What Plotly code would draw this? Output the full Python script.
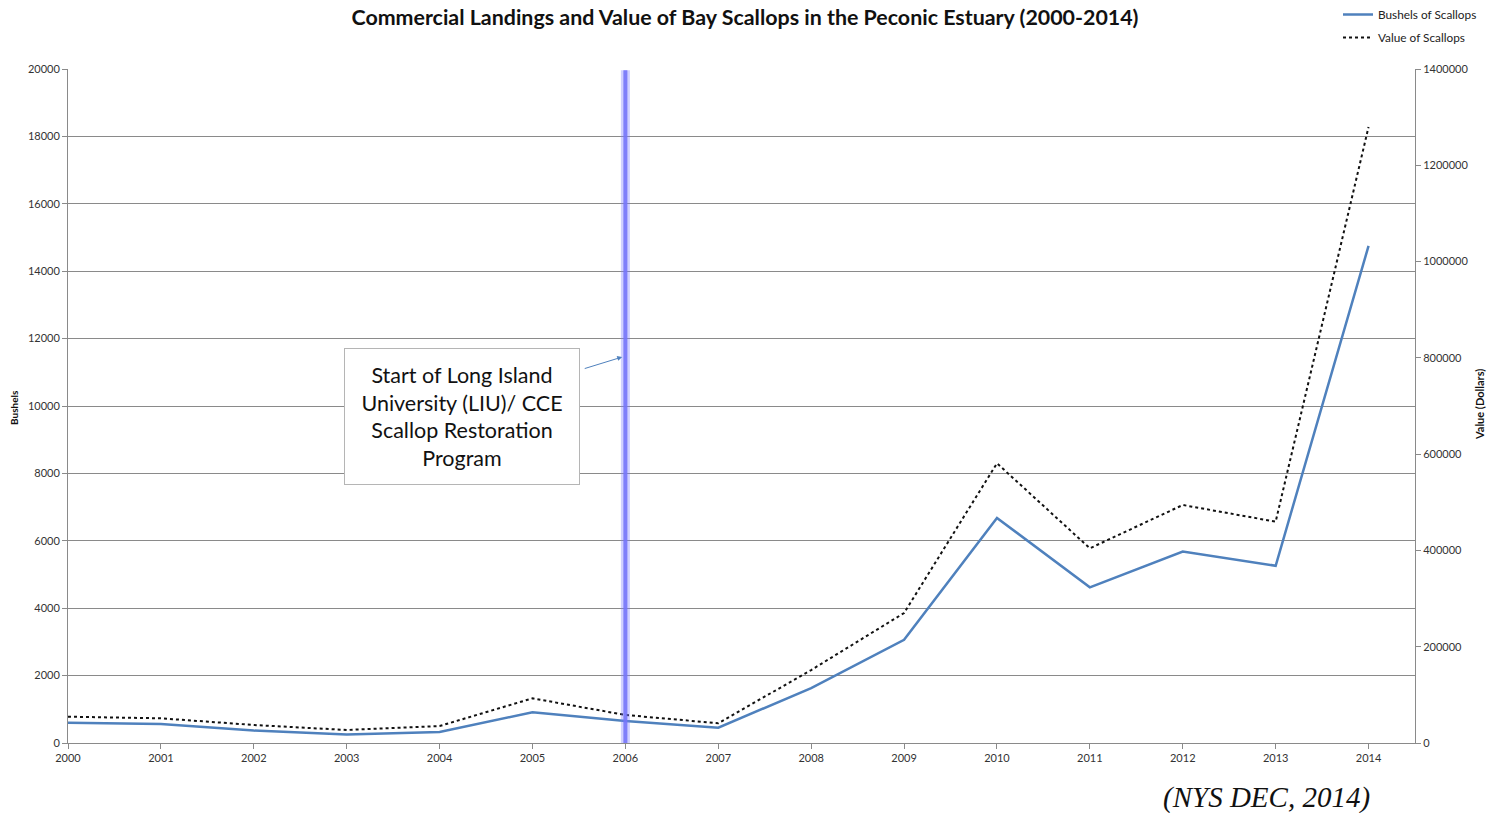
import plotly.graph_objects as go

years = list(range(2000, 2015))
bushels = [600, 565, 370, 250, 330, 910, 650, 455, 1630, 3060, 6680, 4620, 5680, 5260, 14750]
value_dollars = [54600, 51300, 37400, 27000, 35300, 92800, 58200, 41000, 151600, 270000, 581000, 404400, 494400, 459700, 1279600]
program_start_year = 2006

title_text = "Commercial Landings and Value of Bay Scallops in the Peconic Estuary (2000-2014)"
note_text = "Start of Long Island<br>University (LIU)/ CCE<br>Scallop Restoration<br>Program"
source_text = "(NYS DEC, 2014)"

font_main = "Lato, 'Open Sans', sans-serif"
axis_gray = "#8a8a8a"
tick_font = dict(family=font_main, size=11, color="#333333")

W, H = 1497, 813
ML, MR, MT, MB = 68, 82, 69, 70
pw, ph = W - ML - MR, H - MT - MB


def px_x(px):
    return (px - ML) / pw


def px_y(py):
    return (H - MB - py) / ph


fig = go.Figure()

fig.add_trace(go.Scatter(
    x=years, y=bushels, name="Bushels of Scallops", mode="lines", legendgroup="b",
    line=dict(color="#4F81BD", width=2.5), yaxis="y",
))
fig.add_trace(go.Scatter(
    x=years, y=value_dollars, name="Value of Scallops", mode="lines", legendgroup="v",
    line=dict(color="#111111", width=2, dash="dot"), yaxis="y2",
))

# program start marker: soft halo plus core line
fig.add_shape(type="line", xref="x", yref="paper", x0=program_start_year, x1=program_start_year,
              y0=0, y1=0.998, line=dict(color="rgba(120,120,255,0.35)", width=9), layer="above")
fig.add_shape(type="line", xref="x", yref="paper", x0=program_start_year, x1=program_start_year,
              y0=0, y1=0.998, line=dict(color="rgba(118,118,250,0.9)", width=4), layer="above")

fig.add_annotation(
    x=2004.243, y=9674, xref="x", yref="y", text=note_text, showarrow=False,
    font=dict(family=font_main, size=21.5, color="#111111"), align="center",
    bordercolor="#b5b5b5", borderwidth=1, borderpad=0, bgcolor="white",
    width=234, height=135,
)
fig.add_annotation(
    x=2005.966, y=11454, xref="x", yref="y", text="", showarrow=True,
    ax=-39, ay=12, arrowcolor="#4F81BD", arrowwidth=1, arrowhead=2, arrowsize=1,
)

fig.add_annotation(x=px_x(14), y=px_y(408), xref="paper", yref="paper", text="<b>Bushels</b>",
                   xanchor="center", yanchor="middle", showarrow=False, textangle=-90,
                   font=dict(family=font_main, size=10, color="#111"))
fig.add_annotation(x=px_x(1479), y=px_y(405), xref="paper", yref="paper",
                   text="<b>Value (Dollars)</b>", xanchor="center", yanchor="middle",
                   showarrow=False, textangle=-90,
                   font=dict(family=font_main, size=11, color="#111"))
fig.add_annotation(x=px_x(1266), y=px_y(797), xref="paper", yref="paper",
                   text=f"<i>{source_text}</i>", xanchor="center", yanchor="middle",
                   showarrow=False,
                   font=dict(family="'Liberation Serif', 'DejaVu Serif', serif", size=29, color="#111"))

fig.update_layout(
    width=W, height=H,
    margin=dict(l=ML, r=MR, t=MT, b=MB, autoexpand=False),
    paper_bgcolor="white", plot_bgcolor="white",
    title=dict(text=f"<b>{title_text}</b>", x=745 / W, xanchor="center",
               y=1 - 18 / H, yanchor="middle",
               font=dict(family=font_main, size=21.4, color="#111111")),
    showlegend=True,
    legend=dict(x=px_x(1338), y=px_y(0), xanchor="left", yanchor="top", bgcolor="rgba(0,0,0,0)",
                font=dict(family=font_main, size=11.8, color="#222"), tracegroupgap=4),
    xaxis=dict(range=[2000, 2014.5], tickmode="array", tickvals=years,
               ticktext=[str(y) for y in years], showgrid=False, zeroline=False,
               showline=True, linecolor=axis_gray, linewidth=1, ticks="outside",
               ticklen=5, tickcolor=axis_gray, tickfont=tick_font),
    yaxis=dict(range=[0, 20000], dtick=2000, showgrid=True, gridcolor=axis_gray, gridwidth=1,
               zeroline=False, showline=True, linecolor=axis_gray, ticks="outside",
               ticklen=5, tickcolor=axis_gray, tickfont=tick_font, tickformat="d"),
    yaxis2=dict(range=[0, 1400000], dtick=200000, overlaying="y", side="right",
                showgrid=False, zeroline=False, showline=True, linecolor=axis_gray,
                ticks="outside", ticklen=5, tickcolor=axis_gray, tickfont=tick_font,
                tickformat="d"),
)

fig.write_html("out.html")
